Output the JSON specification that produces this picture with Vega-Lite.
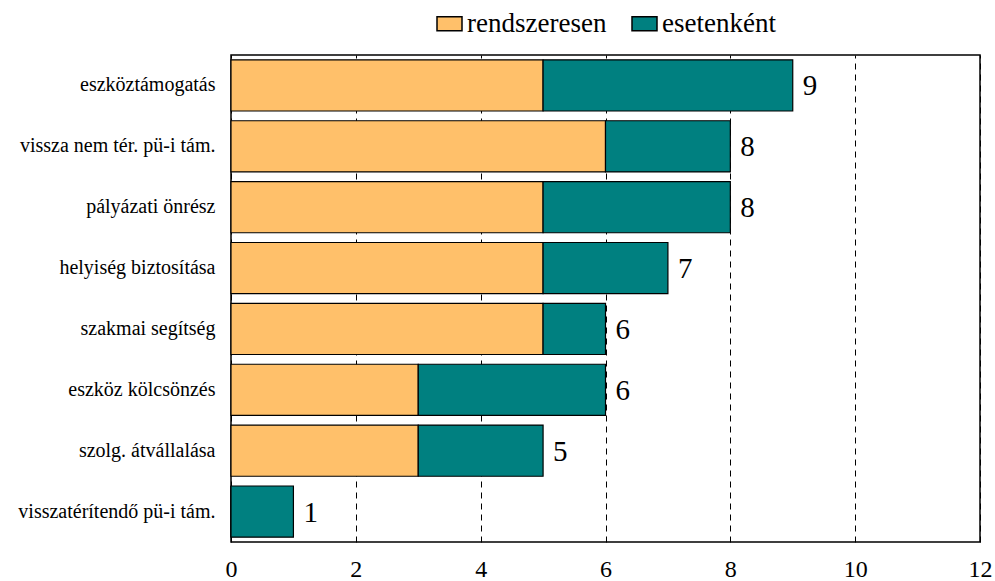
{
  "$schema": "https://vega.github.io/schema/vega-lite/v6.json",
  "autosize": {"type": "none"},
  "width": 749,
  "height": 487,
  "padding": {"left": 231, "top": 55, "right": 15, "bottom": 39},
  "background": "white",
  "config": {
    "font": "Liberation Serif, Times New Roman, serif",
    "view": {"stroke": "black", "strokeWidth": 1.5}
  },
  "data": {
    "values": [
      {"cat": "eszköztámogatás", "type": "rendszeresen", "rank": 1, "value": 5},
      {"cat": "eszköztámogatás", "type": "esetenként", "rank": 2, "value": 4},
      {"cat": "vissza nem tér. pü-i tám.", "type": "rendszeresen", "rank": 1, "value": 6},
      {"cat": "vissza nem tér. pü-i tám.", "type": "esetenként", "rank": 2, "value": 2},
      {"cat": "pályázati önrész", "type": "rendszeresen", "rank": 1, "value": 5},
      {"cat": "pályázati önrész", "type": "esetenként", "rank": 2, "value": 3},
      {"cat": "helyiség biztosítása", "type": "rendszeresen", "rank": 1, "value": 5},
      {"cat": "helyiség biztosítása", "type": "esetenként", "rank": 2, "value": 2},
      {"cat": "szakmai segítség", "type": "rendszeresen", "rank": 1, "value": 5},
      {"cat": "szakmai segítség", "type": "esetenként", "rank": 2, "value": 1},
      {"cat": "eszköz kölcsönzés", "type": "rendszeresen", "rank": 1, "value": 3},
      {"cat": "eszköz kölcsönzés", "type": "esetenként", "rank": 2, "value": 3},
      {"cat": "szolg. átvállalása", "type": "rendszeresen", "rank": 1, "value": 3},
      {"cat": "szolg. átvállalása", "type": "esetenként", "rank": 2, "value": 2},
      {"cat": "visszatérítendő pü-i tám.", "type": "rendszeresen", "rank": 1, "value": 0},
      {"cat": "visszatérítendő pü-i tám.", "type": "esetenként", "rank": 2, "value": 1}
    ]
  },
  "encoding": {
    "y": {
      "field": "cat",
      "type": "nominal",
      "sort": null,
      "scale": {"paddingInner": 0.16, "paddingOuter": 0.08},
      "axis": {
        "title": null,
        "domain": false,
        "ticks": false,
        "labelFont": "Liberation Serif, Times New Roman, serif",
        "labelFontSize": 20,
        "labelColor": "black",
        "labelPadding": 16,
        "labelLimit": 300
      }
    }
  },
  "layer": [
    {
      "mark": {"type": "bar", "stroke": "black", "strokeWidth": 1.2},
      "encoding": {
        "x": {
          "field": "value",
          "type": "quantitative",
          "stack": "zero",
          "scale": {"domain": [0, 12], "nice": false},
          "axis": {
            "title": null,
            "values": [0, 2, 4, 6, 8, 10, 12],
            "format": "d",
            "domain": false,
            "ticks": false,
            "labelFont": "Liberation Serif, Times New Roman, serif",
            "labelFontSize": 24,
            "labelColor": "black",
            "labelPadding": 15,
            "grid": true,
            "gridColor": "black",
            "gridDash": [6, 5],
            "gridWidth": 1,
            "labelFlush": false
          }
        },
        "color": {
          "field": "type",
          "type": "nominal",
          "sort": ["rendszeresen", "esetenként"],
          "scale": {"domain": ["rendszeresen", "esetenként"], "range": ["#FFC06A", "#008080"]},
          "legend": {
            "title": null,
            "orient": "none",
            "direction": "horizontal",
            "legendX": 205,
            "legendY": -45,
            "symbolType": "M-1,-0.56L1,-0.56L1,0.56L-1,0.56Z",
            "symbolSize": 625,
            "symbolStrokeColor": "black",
            "symbolStrokeWidth": 1.5,
            "symbolOpacity": 1,
            "labelFont": "Liberation Serif, Times New Roman, serif",
            "labelFontSize": 27,
            "labelColor": "black",
            "labelOffset": 4,
            "columnPadding": 22
          }
        },
        "order": {"field": "rank", "type": "quantitative"}
      }
    },
    {
      "mark": {"type": "text", "align": "left", "baseline": "middle", "dx": 10, "dy": 1, "fontSize": 29, "font": "Liberation Serif, Times New Roman, serif", "color": "black"},
      "encoding": {
        "x": {"aggregate": "sum", "field": "value", "type": "quantitative"},
        "text": {"aggregate": "sum", "field": "value", "type": "quantitative"}
      }
    }
  ]
}
